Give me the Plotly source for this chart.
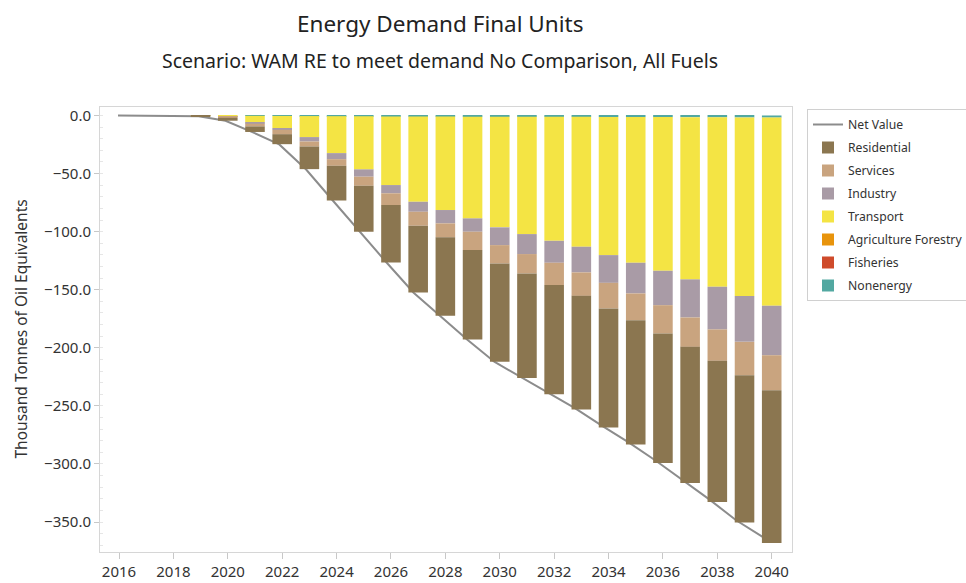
import plotly.graph_objects as go

years = list(range(2016, 2041))

residential = [0, 0, 0, -0.4, -2.5, -4.8, -8.6, -19.5, -29.9, -39.6, -49.4, -57.4, -67.6,
               -76.9, -84.7, -89.9, -94.0, -97.9, -102.6, -107.1, -111.5, -117.2, -121.6, -126.9, -131.6]
services = [0, 0, 0, -0.1, -0.9, -2.3, -3.7, -4.3, -5.7, -7.8, -10.1, -12.0, -12.0,
            -15.8, -15.8, -16.7, -19.2, -20.2, -22.0, -23.0, -24.4, -25.3, -27.0, -28.7, -30.1]
industry = [0, 0, 0, 0, -0.3, -1.1, -1.5, -3.8, -5.2, -6.3, -7.1, -8.6, -11.5,
            -11.5, -15.3, -17.2, -18.9, -22.1, -23.9, -26.4, -29.6, -32.8, -36.7, -39.4, -42.5]
transport = [0, 0, 0, -0.1, -0.8, -5.7, -10.5, -18.1, -31.8, -45.7, -59.1, -73.5, -80.5,
             -87.6, -95.3, -101.0, -106.7, -111.8, -118.9, -125.4, -132.3, -139.6, -145.9, -153.8, -162.1]
agriculture = [0, 0, 0, 0, 0, 0, 0, 0, 0, 0, 0, 0, 0,
               0, 0, 0, 0, 0, 0, 0, 0, 0, 0, 0, 0]
fisheries = [0, 0, 0, 0, 0, 0, 0, 0, 0, 0, 0, 0, 0,
             0, 0, 0, 0, 0, 0, 0, 0, 0, 0, 0, 0]
nonenergy = [0, 0, 0, 0, 0, -0.3, -0.4, -0.5, -0.6, -0.7, -0.8, -0.8, -0.9,
             -1.0, -1.0, -1.1, -1.2, -1.2, -1.3, -1.4, -1.4, -1.5, -1.6, -1.7, -1.8]
net_value = [0, 0, 0, -0.6, -4.5, -14.3, -24.9, -46.5, -73.4, -100.3, -126.8, -152.6, -172.8,
             -193.0, -212.0, -225.5, -239.0, -252.0, -267.0, -281.5, -297.0, -314.0, -330.5, -348.5, -363.0]

FONT = "Noto Sans"
TXT = "#333333"
AXC = "#d6d6d6"

fig = go.Figure()

# Net value line (behind bars, on its own hidden x axis)
fig.add_trace(go.Scatter(x=years, y=net_value, mode="lines", name="Net Value",
                         line=dict(color="#8c8c8c", width=2), xaxis="x", yaxis="y",
                         legendrank=1, legendgroup="g1"))

series = [
    ("Nonenergy", nonenergy, "#52a8a1", 8),
    ("Fisheries", fisheries, "#cf4b2b", 7),
    ("Agriculture Forestry", agriculture, "#e8940c", 6),
    ("Transport", transport, "#f4e444", 5),
    ("Industry", industry, "#a99ba6", 4),
    ("Services", services, "#c9a47f", 3),
    ("Residential", residential, "#8b7650", 2),
]
for name, vals, col, rank in series:
    fig.add_trace(go.Bar(x=years, y=vals, name=name, marker=dict(color=col, line=dict(width=0)),
                         xaxis="x2", yaxis="y", legendrank=rank, legendgroup="g%d" % rank))

fig.update_layout(
    width=966, height=583,
    margin=dict(l=100, r=174, t=107, b=31, autoexpand=False),
    paper_bgcolor="white", plot_bgcolor="white",
    font=dict(family=FONT, size=13, color=TXT),
    barmode="relative", bargap=0.28,
    showlegend=True,
    legend=dict(xref="container", yref="container", x=807 / 966, y=1 - 109 / 583,
                xanchor="left", yanchor="top",
                bordercolor="#d0d0d0", borderwidth=1, bgcolor="white",
                font=dict(family=FONT, size=12.2, color=TXT),
                tracegroupgap=4, traceorder="grouped"),
    xaxis=dict(type="linear", range=[2015.330, 2041.078], visible=False, fixedrange=True),
    xaxis2=dict(type="linear", overlaying="x", side="bottom", anchor="y",
                range=[2015.301, 2040.746], tick0=2016, dtick=2,
                ticks="outside", ticklen=6, tickcolor="#c8c8c8",
                showline=True, linecolor=AXC, mirror=True, showgrid=False, zeroline=False,
                tickfont=dict(size=15, color=TXT)),
    yaxis=dict(range=[-375.8, 7.3], dtick=50, tickformat=".1f",
               ticks="outside", ticklen=5, tickcolor="#c8c8c8",
               showline=True, linecolor=AXC, mirror=True, showgrid=False, zeroline=False,
               tickfont=dict(size=15, color=TXT),
               minor=dict(ticks="inside", dtick=10, ticklen=3, tickcolor="#e6e6e6")),
    annotations=[
        dict(text="Energy Demand Final Units", xref="paper", yref="paper",
             x=0.491, y=(552 - 24) / 445, xanchor="center", yanchor="middle",
             showarrow=False, font=dict(size=22.5, color="#222222")),
        dict(text="Scenario: WAM RE to meet demand No Comparison, All Fuels", xref="paper", yref="paper",
             x=0.491, y=(552 - 60) / 445, xanchor="center", yanchor="middle",
             showarrow=False, font=dict(size=19.5, color="#222222")),
        dict(text="Thousand Tonnes of Oil Equivalents", xref="paper", yref="paper",
             x=(20 - 100) / 692, y=0.5, xanchor="center", yanchor="middle", textangle=-90,
             showarrow=False, font=dict(size=15.5, color=TXT)),
    ],
)

fig.write_html("out.html", config={"displayModeBar": False},
               post_script="document.body.style.margin='0';document.body.style.overflow='hidden';")
